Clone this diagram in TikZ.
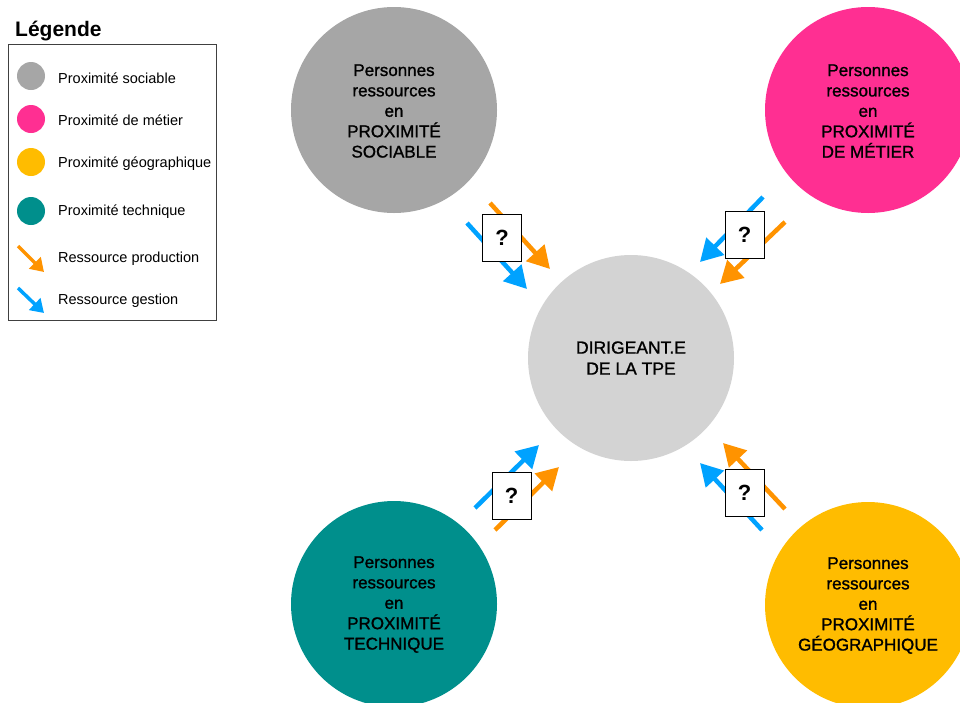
\documentclass[tikz,border=0pt]{standalone}
\usepackage{fontspec}
\setmainfont{Liberation Sans}
\newfontfamily\circfont[FakeBold=1.2]{Liberation Sans}
\usetikzlibrary{arrows.meta}
\definecolor{csoc}{HTML}{A6A6A6}
\definecolor{cmet}{HTML}{FF2F92}
\definecolor{cgeo}{HTML}{FFBC00}
\definecolor{ctec}{HTML}{008F8C}
\definecolor{ccen}{HTML}{D3D3D3}
\definecolor{corange}{HTML}{FF9300}
\definecolor{cblue}{HTML}{00A2FF}
\tikzset{
  bigcircle/.style={circle, minimum size=206pt, inner sep=0pt, align=center,
    font=\circfont\fontsize{17}{20.4}\selectfont},
  circtext/.style={align=center, font=\circfont\fontsize{17}{20.4}\selectfont},
  legdot/.style={circle, minimum size=28pt, inner sep=0pt},
  legtext/.style={anchor=west, inner sep=0pt, font=\fontsize{14.5}{17}\selectfont},
  resarrow/.style={line width=4.5pt, -{Triangle[length=22pt,width=24pt]}},
  prodarrow/.style={resarrow, draw=corange},
  gestarrow/.style={resarrow, draw=cblue},
  legarrow/.style={line width=3.5pt, -{Triangle[length=13pt,width=16pt]}},
  qbox/.style={draw=black, line width=1pt, fill=white, minimum width=39pt, minimum height=47pt,
    inner sep=0pt, font=\bfseries\fontsize{22}{24}\selectfont},
}
\begin{document}
\begin{tikzpicture}[x=1pt,y=-1pt]
\useasboundingbox (0,0) rectangle (960,702);
\begin{scope}
\clip (0,0) rectangle (960,702);
% circles
\node[bigcircle, fill=csoc] (soc) at (394,110) {};
\node[circtext] (soct) at (394,111) {Personnes\\ressources\\en\\PROXIMITÉ\\SOCIABLE};
\node[bigcircle, fill=cmet] (met) at (868,110) {};
\node[circtext] (mett) at (868,111) {Personnes\\ressources\\en\\PROXIMITÉ\\DE MÉTIER};
\node[bigcircle, fill=ccen, font=\circfont\fontsize{17.5}{21}\selectfont] (cen) at (631,358) {DIRIGEANT.E\\DE LA TPE};
\node[bigcircle, fill=ctec] (tec) at (394,604) {};
\node[circtext] (tect) at (394,604.5) {Personnes\\ressources\\en\\PROXIMITÉ\\TECHNIQUE};
\node[bigcircle, fill=cgeo] (geo) at (868,605) {};
\node[circtext] (geot) at (868,605.5) {Personnes\\ressources\\en\\PROXIMITÉ\\GÉOGRAPHIQUE};
\end{scope}

% top-left arrows
\coordinate (tlos) at (490,203); \coordinate (tlot) at (550,269);
\coordinate (tlbs) at (467,223); \coordinate (tlbt) at (527,289);
\draw[prodarrow] (tlos) -- (tlot);
\draw[gestarrow] (tlbs) -- (tlbt);
\node[qbox] (qtl) at (502,238) {?};

% top-right arrows
\coordinate (trbs) at (763,197); \coordinate (trbt) at (700,262);
\coordinate (tros) at (785,222); \coordinate (trot) at (720,284);
\draw[gestarrow] (trbs) -- (trbt);
\draw[prodarrow] (tros) -- (trot);
\node[qbox] (qtr) at (744.5,235) {?};

% bottom-left arrows
\coordinate (blbs) at (475,508); \coordinate (blbt) at (539,445);
\coordinate (blos) at (495,530); \coordinate (blot) at (559,467);
\draw[gestarrow] (blbs) -- (blbt);
\draw[prodarrow] (blos) -- (blot);
\node[qbox] (qbl) at (511.5,496) {?};

% bottom-right arrows
\coordinate (bros) at (785,509); \coordinate (brot) at (723,443);
\coordinate (brbs) at (762,530); \coordinate (brbt) at (700,463);
\draw[prodarrow] (bros) -- (brot);
\draw[gestarrow] (brbs) -- (brbt);
\node[qbox] (qbr) at (744.5,492.5) {?};

% legend
\node[anchor=west, inner sep=0pt, font=\bfseries\fontsize{21}{24}\selectfont] (legtitle) at (15,31) {Légende};
\node[draw=black!75, line width=1pt, minimum width=208pt, minimum height=276pt, anchor=north west, inner sep=0pt] (legbox) at (8,44) {};
\node[legdot, fill=csoc] (l1) at (31,76) {};
\node[legtext] (t1) at (58,78) {Proximité sociable};
\node[legdot, fill=cmet] (l2) at (31,119) {};
\node[legtext] (t2) at (58,120) {Proximité de métier};
\node[legdot, fill=cgeo] (l3) at (31,162) {};
\node[legtext] (t3) at (58,164) {Proximité géographique};
\node[legdot, fill=ctec] (l4) at (31,211) {};
\node[legtext] (t4) at (58,212) {Proximité technique};
\coordinate (lps) at (18,246); \coordinate (lpt) at (44,272);
\draw[legarrow, draw=corange] (lps) -- (lpt);
\node[legtext] (t5) at (58,259) {Ressource production};
\coordinate (lgs) at (18,288); \coordinate (lgt) at (44,313);
\draw[legarrow, draw=cblue] (lgs) -- (lgt);
\node[legtext] (t6) at (58,301) {Ressource gestion};
\end{tikzpicture}
\end{document}
